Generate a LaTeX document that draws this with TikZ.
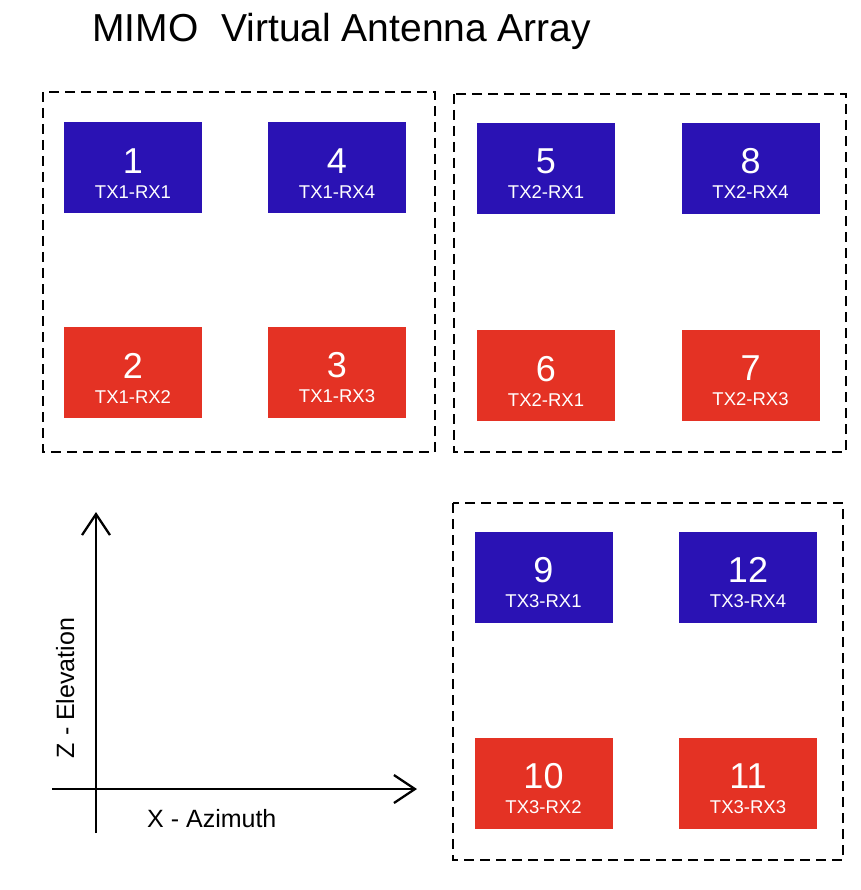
\documentclass[tikz,border=0pt]{standalone}
\usepackage{fontspec}
\setmainfont{Liberation Sans}
\usepackage{xcolor}
\usepackage{tikz}
\usetikzlibrary{arrows.meta, positioning}

\definecolor{antblue}{RGB}{42,18,180}
\definecolor{antred}{RGB}{228,50,36}

% number on top, channel below
\newcommand{\ant}[2]{\rule{0pt}{36pt}{\fontsize{36}{36}\selectfont #1}\\[5pt]#2}

\begin{document}
\begin{tikzpicture}[
    x=1pt, y=-1pt,
    antbox/.style={rectangle, minimum width=138pt, minimum height=91pt, inner sep=0pt, align=center, text=white, font=\fontsize{18.5}{20}\selectfont},
    txbox/.style={antbox, fill=antblue},
    rxbox/.style={antbox, fill=antred},
    group/.style={draw, line width=2.8pt, dash pattern=on 10pt off 6pt},
    axis/.style={-{Straight Barb[length=21pt, width=28pt]}, line width=2.3pt},
    axlabel/.style={font=\fontsize{25}{28}\selectfont, inner sep=0pt}
]
\useasboundingbox (0,0) rectangle (860,890);

% Title
\node[anchor=base west, inner sep=0pt, font=\fontsize{39}{44}\selectfont] (title) at (92,42) {MIMO\hspace{12pt} Virtual Antenna Array};

% TX1 group
\draw[group] (43,92) rectangle (435,452);
\node[txbox] (v1) at (133,168) {\ant{1}{TX1-RX1}};
\node[txbox] (v4) at (337,168) {\ant{4}{TX1-RX4}};
\node[rxbox] (v2) at (133,372.5) {\ant{2}{TX1-RX2}};
\node[rxbox] (v3) at (337,372.5) {\ant{3}{TX1-RX3}};

% TX2 group
\draw[group] (454,94) rectangle (846,452);
\node[txbox] (v5) at (546,168.5) {\ant{5}{TX2-RX1}};
\node[txbox] (v8) at (750.5,168.5) {\ant{8}{TX2-RX4}};
\node[rxbox] (v6) at (546,375.5) {\ant{6}{TX2-RX1}};
\node[rxbox] (v7) at (750.5,375.5) {\ant{7}{TX2-RX3}};

% TX3 group
\draw[group] (453,503) rectangle (843,860);
\node[txbox] (v9) at (543.5,577) {\ant{9}{TX3-RX1}};
\node[txbox] (v12) at (748,577) {\ant{12}{TX3-RX4}};
\node[rxbox] (v10) at (543.5,783.5) {\ant{10}{TX3-RX2}};
\node[rxbox] (v11) at (748,783.5) {\ant{11}{TX3-RX3}};

% Axes
\coordinate (zlow) at (96,833);
\coordinate (ztop) at (96,512);
\coordinate (xlow) at (52,789);
\coordinate (xtop) at (417,789);
\draw[axis] (zlow) -- (ztop);
\draw[axis] (xlow) -- (xtop);
\node[axlabel, anchor=base west] (xlab) at (147,827) {X - Azimuth};
\node[axlabel, anchor=base, rotate=90] (zlab) at (74,688) {Z - Elevation};

\end{tikzpicture}
\end{document}
